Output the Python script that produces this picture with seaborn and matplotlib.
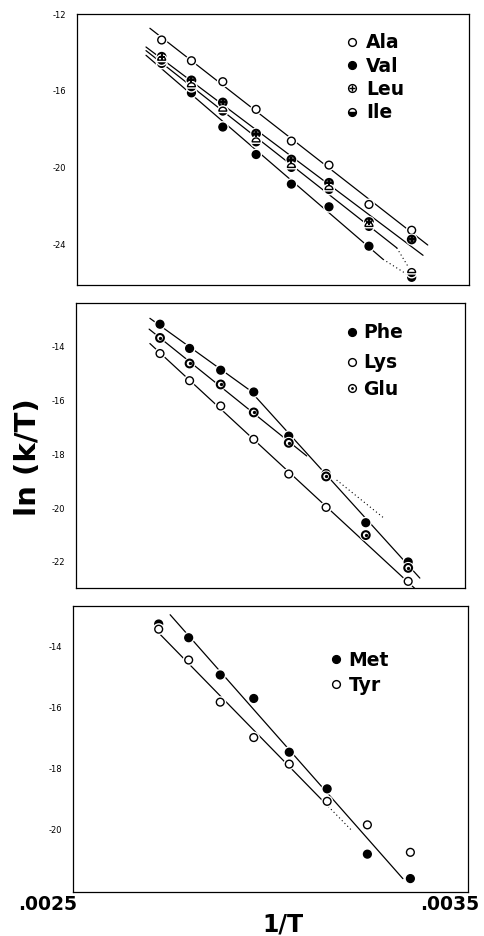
import numpy as np
import pandas as pd
import matplotlib
matplotlib.use("Agg")
import matplotlib.pyplot as plt
import matplotlib.patheffects as pe
from matplotlib.transforms import ScaledTranslation
import seaborn as sns

# ---------------- data ----------------
inv_T = [0.002716, 0.002792, 0.002872, 0.002957, 0.003047, 0.003143, 0.003245, 0.003354]

# panel 1
ala = [-13.35, -14.43, -15.52, -16.96, -18.61, -19.86, -21.91, -23.25]
leu = [-14.22, -15.45, -16.60, -18.22, -19.57, -20.78, -22.82, -23.73]
ile = [-14.40, -15.78, -17.05, -18.65, -19.98, -21.13, -23.05, -25.45]
val = [-14.57, -16.10, -17.88, -19.31, -20.85, -22.03, -24.08, -25.70]

# panel 2
phe = [-13.16, -14.06, -14.87, -15.68, -17.32, -18.71, -20.54, -22.00]
lys = [-14.25, -15.26, -16.20, -17.44, -18.73, -19.97, np.nan, -22.72]
glu = [-13.67, -14.62, -15.40, -16.44, -17.57, -18.82, -21.00, -22.22]

# panel 3
met = [-13.26, -13.71, -14.93, -15.70, -17.46, -18.66, -20.80, -21.60]
tyr = [-13.43, -14.44, -15.82, -16.98, -17.85, -19.07, -19.84, -20.74]

legend1 = ["Ala", "Val", "Leu", "Ile"]
legend2 = ["Phe", "Lys", "Glu"]
legend3 = ["Met", "Tyr"]

x_ticks = [0.0025, 0.0027, 0.0029, 0.0031, 0.0033, 0.0035]
x_ticklabels = [".0025", "", "", "", "", ".0035"]
y1_major = [-12, -16, -20, -24]
y1_minor = [-14, -18, -22]
y2_major = [-14, -16, -18, -20, -22]
y2_minor = [-13, -15, -17, -19, -21]
y3_major = [-14, -16, -18, -20]
y3_minor = [-13, -15, -17, -19, -21]

# ---------------- style ----------------
sns.set_style("white")
plt.rcParams["font.family"] = ["DejaVu Sans"]
plt.rcParams["axes.unicode_minus"] = False
plt.rcParams["text.color"] = "black"
plt.rcParams["axes.labelcolor"] = "black"
plt.rcParams["xtick.color"] = "black"
plt.rcParams["ytick.color"] = "black"

fig = plt.figure(figsize=(4.85, 9.36), dpi=100)
ax1 = fig.add_axes([0.1588, 0.6955, 0.808, 0.2895])
ax2 = fig.add_axes([0.1567, 0.3723, 0.802, 0.3043])
ax3 = fig.add_axes([0.1515, 0.0470, 0.8134, 0.3059])

MS = 5.6
HALO = [pe.withStroke(linewidth=3.0, foreground="white")]


def base_kws(face):
    return dict(marker="o", linestyle="", markersize=MS, markeredgewidth=1.0,
                markeredgecolor="k", markerfacecolor=face, color="k",
                estimator=None, sort=False, legend=False)


def draw_points(ax, x, y, kind):
    df = pd.DataFrame({"x": x, "y": y}).dropna()
    if kind == "open":
        sns.lineplot(data=df, x="x", y="y", ax=ax, zorder=5, path_effects=HALO, **base_kws("white"))
    elif kind == "filled":
        sns.lineplot(data=df, x="x", y="y", ax=ax, zorder=5, path_effects=HALO, **base_kws("black"))
    elif kind == "half":
        kw = base_kws("black")
        kw["fillstyle"] = "bottom"
        kw["markerfacecoloralt"] = "white"
        sns.lineplot(data=df, x="x", y="y", ax=ax, zorder=5, path_effects=HALO, **kw)
    elif kind == "plus":
        kw = base_kws("#555555")
        kw["markeredgewidth"] = 1.4
        sns.lineplot(data=df, x="x", y="y", ax=ax, zorder=5, path_effects=HALO, **kw)
        sns.lineplot(data=df, x="x", y="y", ax=ax, zorder=6, marker="+", linestyle="",
                     markersize=MS - 0.6, markeredgewidth=1.4, markeredgecolor="k",
                     color="k", estimator=None, sort=False, legend=False)
    elif kind == "dot":
        kw = base_kws("white")
        kw["markeredgewidth"] = 1.5
        sns.lineplot(data=df, x="x", y="y", ax=ax, zorder=5, path_effects=HALO, **kw)
        sns.lineplot(data=df, x="x", y="y", ax=ax, zorder=6, marker="o", linestyle="",
                     markersize=2.4, markeredgewidth=0, markerfacecolor="k",
                     color="k", estimator=None, sort=False, legend=False)


def fit_line(ax, x, y, idx, x0, x1, ls="-"):
    xs = np.array([x[i] for i in idx])
    ys = np.array([y[i] for i in idx])
    p = np.polyfit(xs, ys, 1)
    df = pd.DataFrame({"x": [x0, x1], "y": np.polyval(p, [x0, x1])})
    sns.lineplot(data=df, x="x", y="y", ax=ax, color="k", linewidth=0.9,
                 linestyle=ls, estimator=None, sort=False, zorder=2, legend=False)
    return p


def dotted(ax, xa, ya, xb, yb):
    df = pd.DataFrame({"x": [xa, xb], "y": [ya, yb]})
    sns.lineplot(data=df, x="x", y="y", ax=ax, color="k", linewidth=0.8,
                 linestyle=(0, (1, 2.5)), estimator=None, sort=False, zorder=2, legend=False)


# ---------------- panel 1 ----------------
all8 = list(range(8))
fit_line(ax1, inv_T, ala, all8, 0.002686, 0.003395)
fit_line(ax1, inv_T, leu, all8, 0.002676, 0.003383)
p_ile = fit_line(ax1, inv_T, ile, all8[:7], 0.002676, 0.003316)
p_val = fit_line(ax1, inv_T, val, all8[:7], 0.002676, 0.003281)
dotted(ax1, 0.003316, np.polyval(p_ile, 0.003316), inv_T[7], ile[7])
dotted(ax1, 0.003281, np.polyval(p_val, 0.003281), inv_T[7], val[7])
draw_points(ax1, inv_T, ala, "open")
draw_points(ax1, inv_T, val, "filled")
draw_points(ax1, inv_T, leu, "plus")
draw_points(ax1, inv_T, ile, "half")

# ---------------- panel 2 ----------------
fit_line(ax2, inv_T, phe, [0, 1, 2, 3], 0.00269, inv_T[3])
fit_line(ax2, inv_T, phe, [3, 4, 5, 6, 7], inv_T[3], 0.003384)
p_glu = fit_line(ax2, inv_T, glu, [0, 1, 2, 3, 4], 0.002688, 0.003093)
dotted(ax2, 0.00317, np.polyval(p_glu, 0.00317), 0.003294, np.polyval(p_glu, 0.003294))
fit_line(ax2, inv_T, lys, [0, 1, 2, 3, 4, 5, 7], 0.00269, 0.003376)
draw_points(ax2, inv_T, phe, "filled")
draw_points(ax2, inv_T, lys, "open")
draw_points(ax2, inv_T, glu, "dot")

# ---------------- panel 3 ----------------
fit_line(ax3, inv_T, met, [1, 2, 3, 4, 5, 6, 7], 0.002745, 0.003335)
p_tyr = fit_line(ax3, inv_T, tyr, [0, 1, 2, 3, 4, 5], 0.002715, 0.003132)
dotted(ax3, 0.003132, np.polyval(p_tyr, 0.003132), 0.003207, np.polyval(p_tyr, 0.003207))
draw_points(ax3, inv_T, met, "filled")
draw_points(ax3, inv_T, tyr, "open")

# ---------------- axes formatting ----------------
limits = [(ax1, (-26.1, -12.0), y1_major, y1_minor),
          (ax2, (-22.95, -12.36), y2_major, y2_minor),
          (ax3, (-22.04, -12.66), y3_major, y3_minor)]
for ax, ylim, ymaj, ymin in limits:
    ax.set_xlim(0.0025, 0.0035)
    ax.set_ylim(*ylim)
    ax.set_yticks(ymaj)
    ax.set_yticklabels([str(v) for v in ymaj])
    ax.set_yticks(ymin, minor=True)
    ax.set_xticks(x_ticks)
    ax.set_xticklabels([""] * len(x_ticks))
    ax.set_xlabel("")
    ax.set_ylabel("")
    for s in ax.spines.values():
        s.set_visible(True)
        s.set_color("black")
        s.set_linewidth(0.9)
    ax.tick_params(axis="both", which="major", direction="in", length=4, width=0.8,
                   color="black", labelsize=6, labelcolor="black")
    ax.tick_params(axis="both", which="minor", direction="in", length=2.5, width=0.7,
                   color="black")
    ax.tick_params(axis="y", which="major", pad=8)

ax3.set_xticklabels(x_ticklabels, fontsize=13.5, fontweight="bold", color="black")
ax3.tick_params(axis="x", which="major", pad=2)
xlabs = ax3.get_xticklabels()
xlabs[0].set_transform(xlabs[0].get_transform() + ScaledTranslation(-0.26, 0, fig.dpi_scale_trans))
xlabs[-1].set_transform(xlabs[-1].get_transform() + ScaledTranslation(-0.18, 0, fig.dpi_scale_trans))

# ---------------- legends (marker + text) ----------------
def legend_entry(ax, xm, xt, y, kind, label):
    common = dict(transform=ax.transAxes, linestyle="", markersize=MS, markeredgecolor="k",
                  clip_on=False, zorder=7)
    if kind == "open":
        ax.plot([xm], [y], marker="o", markerfacecolor="white", markeredgewidth=1.0, **common)
    elif kind == "filled":
        ax.plot([xm], [y], marker="o", markerfacecolor="black", markeredgewidth=1.0, **common)
    elif kind == "half":
        ax.plot([xm], [y], marker="o", markerfacecolor="black", fillstyle="bottom",
                markerfacecoloralt="white", markeredgewidth=1.0, **common)
    elif kind == "plus":
        ax.plot([xm], [y], marker="o", markerfacecolor="white", markeredgewidth=1.0, **common)
        c2 = dict(common)
        c2["markersize"] = MS - 0.8
        ax.plot([xm], [y], marker="+", markeredgewidth=1.0, **c2)
    elif kind == "dot":
        ax.plot([xm], [y], marker="o", markerfacecolor="white", markeredgewidth=1.0, **common)
        c2 = dict(common)
        c2["markersize"] = 2.0
        ax.plot([xm], [y], marker="o", markerfacecolor="black", markeredgewidth=0, **c2)
    off = ScaledTranslation(0, -0.066, fig.dpi_scale_trans)
    ax.text(xt, y, label, transform=ax.transAxes + off, fontsize=13.5, fontweight="bold",
            ha="left", va="baseline", color="black")


for lab, kind, yy in zip(legend1, ["open", "filled", "plus", "half"], [0.898, 0.812, 0.726, 0.640]):
    legend_entry(ax1, 0.702, 0.738, yy, kind, lab)
for lab, kind, yy in zip(legend2, ["filled", "open", "dot"], [0.898, 0.793, 0.699]):
    legend_entry(ax2, 0.709, 0.738, yy, kind, lab)
for lab, kind, yy in zip(legend3, ["filled", "open"], [0.813, 0.726]):
    legend_entry(ax3, 0.665, 0.697, yy, kind, lab)

# ---------------- axis titles ----------------
fig.text(28 / 485, 1 - 457 / 936, "ln (k/T)", rotation=90, fontsize=21, fontweight="bold",
         ha="center", va="center", color="black")
fig.text(283 / 485, 1 - 913 / 936, "1/T", fontsize=17, fontweight="bold", ha="center", va="top",
         color="black")

fig.savefig("out.png", dpi=100, facecolor="white")
